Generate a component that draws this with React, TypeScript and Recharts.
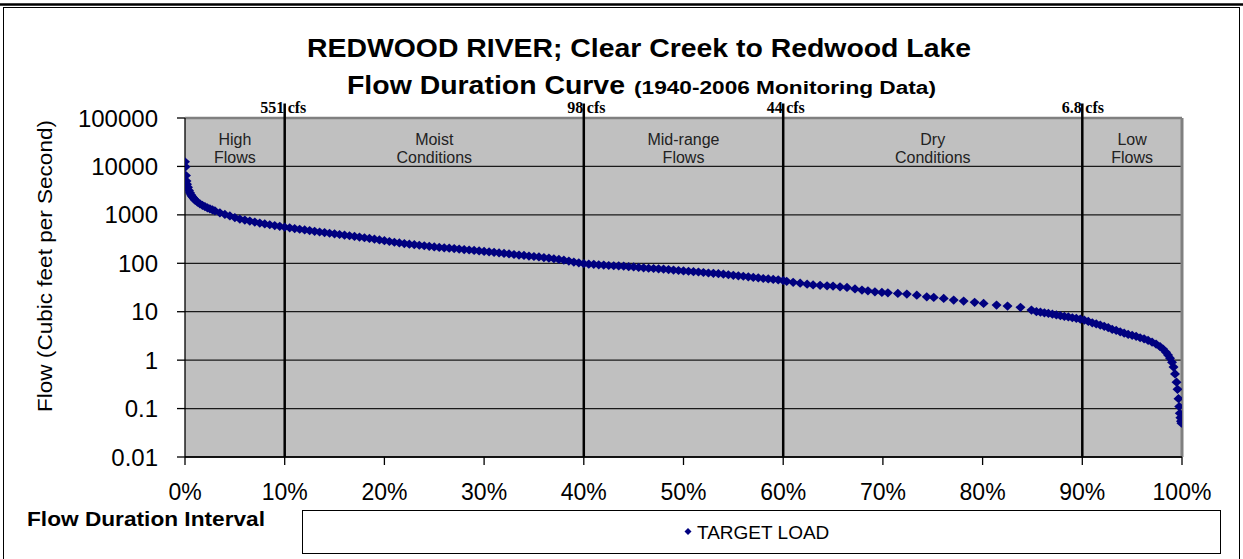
import React from 'react';
import {
  ScatterChart,
  Scatter,
  XAxis,
  YAxis,
  CartesianGrid,
  ReferenceLine,
  ReferenceArea,
  ReferenceDot,
} from 'recharts';

// Flow duration interval (%) of each plotted observation
const flowPercent = [
  0, 0.05, 0.1, 0.15, 0.2, 0.3, 0.4, 0.5, 0.6, 0.7,
  0.8, 0.9, 1, 1.25, 1.5, 1.75, 2, 2.25, 2.5, 2.75,
  3, 3.5, 4, 4.5, 5, 5.5, 6, 6.5, 7, 7.5,
  8, 8.5, 9, 9.5, 10, 10.5, 11, 11.5, 12, 12.5,
  13, 13.5, 14, 14.5, 15, 15.5, 16, 16.5, 17, 17.5,
  18, 18.5, 19, 19.5, 20, 20.5, 21, 21.5, 22, 22.5,
  23, 23.5, 24, 24.5, 25, 25.5, 26, 26.5, 27, 27.5,
  28, 28.5, 29, 29.5, 30, 30.5, 31, 31.5, 32, 32.5,
  33, 33.5, 34, 34.5, 35, 35.5, 36, 36.5, 37, 37.5,
  38, 38.5, 39, 39.5, 40, 40.5, 41, 41.5, 42, 42.5,
  43, 43.5, 44, 44.5, 45, 45.5, 46, 46.5, 47, 47.5,
  48, 48.5, 49, 49.5, 50, 50.5, 51, 51.5, 52, 52.5,
  53, 53.5, 54, 54.5, 55, 55.5, 56, 56.5, 57, 57.5,
  58, 58.5, 59, 59.5, 60, 60.35, 61, 61.7, 62.4, 63,
  63.7, 64.4, 65, 65.7, 66.4, 67.2, 67.9, 68.5, 69.2, 69.9,
  70.5, 71.5, 72.4, 73.4, 74.4, 75.1, 76.1, 77.1, 78.1, 79.2,
  80.1, 81.4, 82.5, 83.8, 84.9, 85.4, 85.8, 86.2, 86.6, 87,
  87.4, 87.8, 88.2, 88.6, 89, 89.4, 89.8, 90.2, 90.6, 91,
  91.4, 91.8, 92.2, 92.6, 93, 93.4, 93.8, 94.2, 94.6, 95,
  95.4, 95.8, 96.2, 96.6, 97, 97.4, 97.8, 98.1, 98.4, 98.6,
  98.8, 99, 99.15, 99.3, 99.45, 99.55, 99.65, 99.72, 99.78, 99.84,
  99.9, 99.95,
];

// Flow (cubic feet per second) for each interval above
const flowCfs = [
  12500, 9800, 6500, 5000, 4300, 3700, 3200, 2850, 2600, 2420,
  2280, 2140, 2020, 1840, 1680, 1570, 1480, 1400, 1330, 1270,
  1210, 1100, 1020, 950, 880, 820, 780, 745, 710, 678,
  650, 625, 602, 580, 558, 540, 522, 505, 489, 473,
  458, 443, 430, 417, 405, 393, 381, 370, 359, 348,
  337, 326, 315, 304, 293, 282, 272, 263, 255, 248,
  242, 236, 230, 224, 218, 213, 209, 205, 201, 197,
  192, 188, 184, 180, 176, 172, 168, 164, 160, 156,
  152, 148, 145, 141, 138, 135, 131, 128, 124, 120,
  116, 111, 106, 102, 98, 96, 95, 93, 92, 90,
  89, 88, 87, 85, 84, 82, 80.5, 79, 78, 77,
  75.5, 74, 72.5, 71, 69.5, 68.5, 67, 66, 64.5, 63,
  62, 61, 59.5, 58, 56.5, 55, 54, 52.5, 51, 50,
  48.5, 47.5, 46.5, 45.5, 44, 42.5, 40.5, 38.8, 37, 35.8,
  35, 34.3, 33.8, 32.7, 31.8, 29.5, 28, 27, 25.8, 25,
  24.6, 23.9, 23.1, 22, 20.3, 19.7, 18.8, 17.4, 16.6, 15.6,
  14.8, 13.7, 13.1, 12.3, 10.8, 10, 9.8, 9.5, 9.2, 8.9,
  8.6, 8.3, 8, 7.8, 7.5, 7.3, 7, 6.7, 6.3, 5.9,
  5.6, 5.3, 5, 4.7, 4.3, 4.1, 3.85, 3.6, 3.4, 3.25,
  3.1, 2.9, 2.75, 2.55, 2.35, 2.15, 1.9, 1.7, 1.45, 1.27,
  1.1, 0.9, 0.72, 0.52, 0.35, 0.25, 0.16, 0.11, 0.08, 0.065,
  0.055, 0.05,
];

const zoneBounds = [0, 10, 40, 60, 90, 100];
const zoneNames = [
  ['High', 'Flows'],
  ['Moist', 'Conditions'],
  ['Mid-range', 'Flows'],
  ['Dry', 'Conditions'],
  ['Low', 'Flows'],
];
const dividerPercent = [10, 40, 60, 90];
const dividerFlow = ['551', '98', '44', '6.8'];
const dividerUnit = 'cfs';
const yTicks = [0.01, 0.1, 1, 10, 100, 1000, 10000, 100000];
const xTicks = [0, 10, 20, 30, 40, 50, 60, 70, 80, 90, 100];

const titleLine1 = 'REDWOOD RIVER; Clear Creek to Redwood Lake';
const titleLine2a = 'Flow Duration Curve';
const titleLine2b = '(1940-2006 Monitoring Data)';
const yLabel = 'Flow (Cubic feet per Second)';
const xLabel = 'Flow Duration Interval';
const seriesName = 'TARGET LOAD';

const data = flowPercent.map((p, i) => ({ p, v: flowCfs[i] }));

const SANS = 'Liberation Sans, Arial, sans-serif';
const SERIF = 'Liberation Serif, Times New Roman, serif';
const MARKER = '#000080';

const Diamond = (props: any) => {
  const { cx, cy } = props;
  if (cx == null || cy == null) return null;
  const rx = 5;
  const ry = 4.6;
  return (
    <polygon
      points={`${cx},${cy - ry} ${cx + rx},${cy} ${cx},${cy + ry} ${cx - rx},${cy}`}
      fill={MARKER}
    />
  );
};

const zoneLabel = (lines: string[]) => (props: any) => {
  const vb = props.viewBox || {};
  const cx = vb.x + vb.width / 2;
  return (
    <g>
      <text x={cx} y={vb.y + 26.5} textAnchor="middle" fontFamily={SANS} fontSize={16} fill="#222">
        {lines[0]}
      </text>
      <text x={cx} y={vb.y + 44.5} textAnchor="middle" fontFamily={SANS} fontSize={16} fill="#222">
        {lines[1]}
      </text>
    </g>
  );
};

const dividerLabel = (flow: string) => (props: any) => {
  const vb = props.viewBox || {};
  const x = vb.x;
  return (
    <g>
      <text x={x - 0.5} y={113} textAnchor="end" fontFamily={SERIF} fontWeight="bold" fontSize={16} fill="#000">
        {flow}
      </text>
      <text x={x + 3} y={113} textAnchor="start" fontFamily={SERIF} fontWeight="bold" fontSize={16} fill="#000">
        {dividerUnit}
      </text>
    </g>
  );
};

export default function App() {
  return (
    <div style={{ position: 'absolute', left: 0, top: 0, width: 1243, height: 559, background: '#fff' }}>
      <svg width={1243} height={559} style={{ position: 'absolute', left: 0, top: 0 }}>
        <line x1={0} y1={4.5} x2={1243} y2={4.5} stroke="#000" strokeWidth={2.5} />
        <rect x={3.5} y={7.5} width={1236} height={560} fill="none" stroke="#000" strokeWidth={1} />
        <text x={639} y={57} textAnchor="middle" fontFamily={SANS} fontWeight="bold" fontSize={25}
          textLength={664} lengthAdjust="spacingAndGlyphs" fill="#000">
          {titleLine1}
        </text>
        <text x={347} y={94} fontFamily={SANS} fontWeight="bold" fontSize={25}
          textLength={278} lengthAdjust="spacingAndGlyphs" fill="#000">
          {titleLine2a}
        </text>
        <text x={634} y={94} fontFamily={SANS} fontWeight="bold" fontSize={18}
          textLength={302} lengthAdjust="spacingAndGlyphs" fill="#000">
          {titleLine2b}
        </text>
        <text x={0} y={0} transform="translate(52, 266) rotate(-90)" textAnchor="middle"
          fontFamily={SANS} fontSize={21} fill="#000" textLength={292} lengthAdjust="spacingAndGlyphs">
          {yLabel}
        </text>
        <text x={27} y={526} fontFamily={SANS} fontWeight="bold" fontSize={21}
          textLength={238} lengthAdjust="spacingAndGlyphs" fill="#000">
          {xLabel}
        </text>
        <rect x={302.5} y={510.5} width={918} height={43} fill="#fff" stroke="#000" strokeWidth={1} />
        <polygon points="688,528 691.5,531.5 688,535 684.5,531.5" fill={MARKER} />
        <text x={697} y={538.5} fontFamily={SANS} fontSize={19} fill="#000">
          {seriesName}
        </text>
      </svg>
      <div style={{ position: 'absolute', left: 0, top: 0 }}>
        <ScatterChart
          width={1243}
          height={559}
          margin={{ top: 118, right: 61, bottom: 72, left: 0 }}
        >
          <CartesianGrid vertical={false} fill="#C0C0C0" stroke="#1a1a1a" strokeWidth={1.3} />
          <XAxis
            dataKey="p"
            type="number"
            domain={[0, 100]}
            ticks={xTicks}
            interval={0}
            height={30}
            allowDataOverflow
            tickFormatter={(v: number) => `${v}%`}
            tick={{ fontSize: 23, fill: '#000', fontFamily: SANS }}
            tickSize={8}
            tickMargin={19}
            axisLine={{ stroke: '#000', strokeWidth: 1.3 }}
            tickLine={{ stroke: '#000', strokeWidth: 1.3 }}
          />
          <YAxis
            dataKey="v"
            type="number"
            scale="log"
            domain={[0.01, 100000]}
            ticks={yTicks}
            interval={0}
            allowDataOverflow
            width={185}
            tickFormatter={(v: number) => String(v)}
            tick={{ fontSize: 24, fill: '#000', fontFamily: SANS }}
            tickSize={8}
            tickMargin={19}
            axisLine={{ stroke: '#000', strokeWidth: 1.3 }}
            tickLine={{ stroke: '#000', strokeWidth: 1.3 }}
          />
          {zoneNames.map((lines, i) => (
            <ReferenceArea
              key={`z${i}`}
              x1={zoneBounds[i]}
              x2={zoneBounds[i + 1]}
              y1={0.01}
              y2={100000}
              fill="none"
              fillOpacity={0}
              stroke="none"
              label={{ content: zoneLabel(lines) }}
            />
          ))}
          <ReferenceLine y={100000} stroke="#808080" strokeWidth={2.5} />
          <ReferenceLine x={100} stroke="#808080" strokeWidth={3} />
          {dividerPercent.map((p, i) => (
            <ReferenceLine
              key={`d${i}`}
              segment={[{ x: p, y: 0.01 }, { x: p, y: 200000 }]}
              stroke="#000"
              strokeWidth={2.5}
              ifOverflow="visible"
            />
          ))}
          {dividerPercent.map((p, i) => (
            <ReferenceDot
              key={`l${i}`}
              x={p}
              y={100000}
              r={0}
              fill="none"
              stroke="none"
              ifOverflow="visible"
              label={{ content: dividerLabel(dividerFlow[i]) }}
            />
          ))}
          <Scatter
            name={seriesName}
            data={data}
            fill={MARKER}
            shape={<Diamond />}
            isAnimationActive={false}
          />
        </ScatterChart>
      </div>
    </div>
  );
}
